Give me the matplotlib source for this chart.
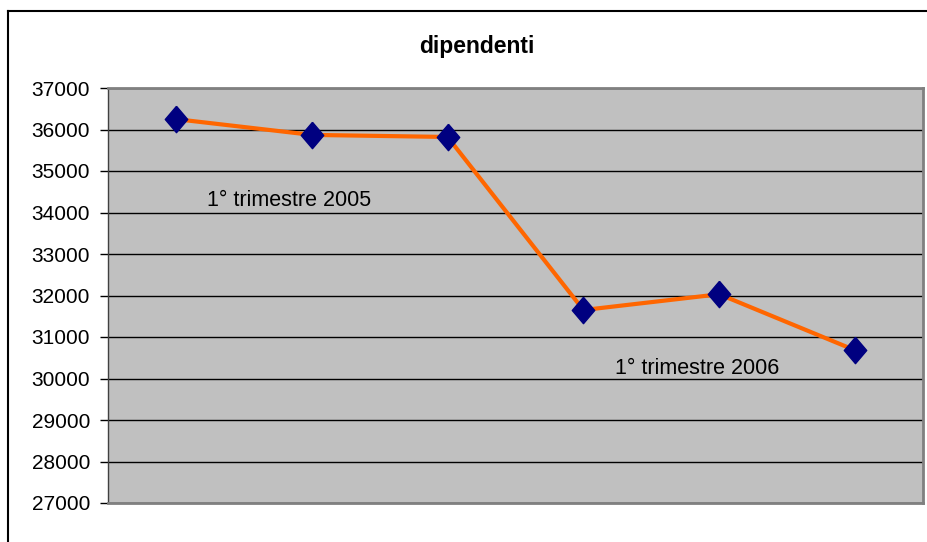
import numpy as np
import matplotlib.pyplot as plt
from matplotlib.lines import Line2D

# values (one point per quarter)
quarters = ['', '', '', '', '', '']
dipendenti = [36250, 35870, 35820, 31650, 32030, 30680]
yticks = [27000, 28000, 29000, 30000, 31000, 32000, 33000, 34000, 35000, 36000, 37000]
notes = ['1° trimestre 2005', '1° trimestre 2006']
note_pos = [(0.23, 34300), (3.23, 30250)]

plt.rcParams['font.family'] = ['Liberation Sans', 'DejaVu Sans']

fig = plt.figure(figsize=(9.27, 5.42), dpi=100)
fig.patch.set_facecolor('white')
ax = fig.add_axes([108/927, 1 - 503/542, 815/927, 415/542])
ax.set_facecolor('#C0C0C0')

# outer chart border (runs off the right and bottom edge)
fig.add_artist(Line2D([8/927, 8/927], [0, 1 - 11/542], color='black', lw=1.5, transform=fig.transFigure))
fig.add_artist(Line2D([8/927, 1], [1 - 11/542, 1 - 11/542], color='black', lw=1.5, transform=fig.transFigure))

x = np.arange(len(dipendenti))
diamond = [(0, 1), (0.85, 0), (0, -1), (-0.85, 0), (0, 1)]
ax.plot(x, dipendenti, color='#FF6600', lw=3, zorder=3)
ax.plot(x, dipendenti, ls='none', marker=diamond, ms=19, markerfacecolor='#000080',
        markeredgecolor='#000080', zorder=4)

for txt, (tx, ty) in zip(notes, note_pos):
    ax.text(tx, ty, txt, fontsize=15.5, va='center', ha='left', zorder=5)

ax.set_xlim(-0.5, len(dipendenti) - 0.5)
ax.set_ylim(27000, 37000)
ax.set_yticks(yticks)
ax.set_yticklabels([str(v) for v in yticks], fontsize=15)
ax.set_xticks([])
ax.tick_params(axis='y', length=6, width=1, color='black', pad=7)
ax.yaxis.grid(True, color='black', lw=1)
ax.set_axisbelow(True)

for side in ['top', 'right', 'bottom']:
    ax.spines[side].set_color('#808080')
    ax.spines[side].set_linewidth(2)
ax.spines['left'].set_color('#404040')
ax.spines['left'].set_linewidth(1)

fig.text(477/927, 1 - 47/542, 'dipendenti', fontsize=16.5, fontweight='bold', ha='center', va='center')

plt.savefig('out.png', dpi=100)
